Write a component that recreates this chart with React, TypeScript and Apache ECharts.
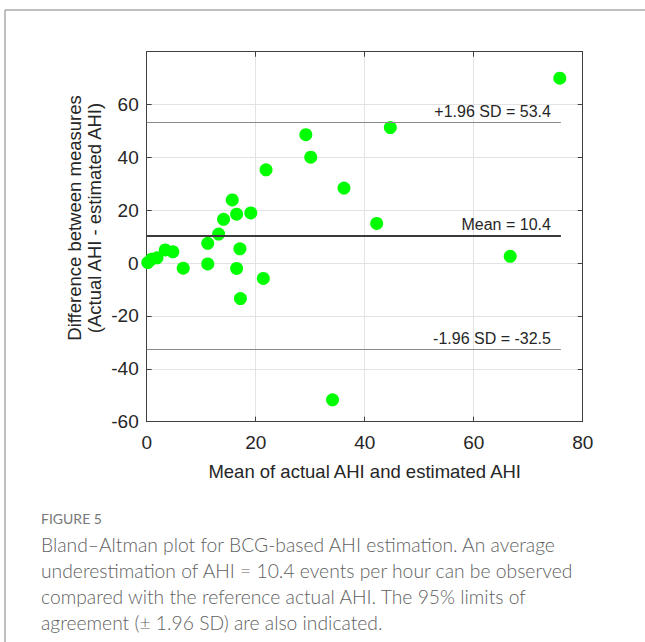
import React, { useEffect, useRef } from "react";
import * as echarts from "echarts";

const meanValues = [0.2, 0.9, 1.9, 3.4, 4.8, 6.7, 11.2, 11.2, 13.2, 14.1, 15.7, 16.5, 17.1, 16.5, 17.2, 19.1, 21.9, 21.4, 29.2, 30.1, 36.2, 34.1, 42.2, 44.7, 66.7, 75.8];
const diffValues = [0.2, 1.5, 2.0, 5.0, 4.3, -1.9, 7.5, -0.3, 11.0, 16.6, 23.9, 18.5, 5.4, -2.0, -13.4, 19.0, 35.3, -5.8, 48.6, 40.1, 28.4, -51.7, 15.0, 51.3, 2.6, 70.0];

const meanDiff = 10.4;
const upperLoA = 53.4;
const lowerLoA = -32.5;
const lineRange = [0, 76];

const xTicks = [0, 20, 40, 60, 80];
const yTicks = [-60, -40, -20, 0, 20, 40, 60, 80];

const xAxisTitle = "Mean of actual AHI and estimated AHI";
const yAxisTitle = ["Difference between measures", "(Actual AHI - estimated AHI)"];
const figureLabel = "FIGURE 5";
const captionLines = [
  "Bland\u2013Altman plot for BCG-based AHI estimation. An average",
  "underestimation of AHI = 10.4 events per hour can be observed",
  "compared with the reference actual AHI. The 95% limits of",
  "agreement (\u00b1 1.96 SD) are also indicated.",
];

const W = 645;
const H = 642;
const PLOT_L = 146.7;
const PLOT_R = 582.7;
const PLOT_T = 51.7;
const PLOT_B = 421.7;

export default function App() {
  const ref = useRef<HTMLDivElement>(null);

  useEffect(() => {
    if (!ref.current) return;
    const chart = echarts.init(ref.current, null, { renderer: "svg" });
    const textColor = "#262626";
    const axisColor = "#404040";
    const fontFamily = "'Liberation Sans', Arial, sans-serif";
    const captionFont = "Lato, 'Open Sans', sans-serif";

    const hLine = (y: number, label: string, color: string, width: number) => [
      {
        coord: [lineRange[0], y],
        lineStyle: { color, width, type: "solid" },
        label: {
          show: true,
          position: "insideEndTop",
          distance: [10, 3],
          formatter: label,
          color: textColor,
          fontSize: 16,
          fontFamily,
        },
      },
      { coord: [lineRange[1], y] },
    ];

    const xMin = xTicks[0];
    const xMax = xTicks[xTicks.length - 1];
    const yMin = yTicks[0];
    const yMax = yTicks[yTicks.length - 1];

    const captionGraphics: any[] = [
      {
        type: "text",
        x: 84,
        y: 218,
        rotation: Math.PI / 2,
        style: {
          text: yAxisTitle.join("\n"),
          fontSize: 18.5,
          lineHeight: 20,
          fill: textColor,
          fontFamily,
          align: "center",
          verticalAlign: "middle",
        },
      },
      {
        type: "text",
        left: 41,
        top: 511,
        style: { text: figureLabel, fontSize: 14, fill: "#777", fontFamily: captionFont },
      },
      ...captionLines.map((t, i) => ({
        type: "text",
        left: 41,
        top: 535 + i * 26,
        style: {
          text: t,
          fontSize: 19.3,
          fontWeight: 300,
          fill: "#5f5f5f",
          fontFamily: captionFont,
        },
      })),
      {
        type: "line",
        shape: { x1: 5, y1: 10, x2: W, y2: 10 },
        style: { stroke: "#aaaaaa", lineWidth: 1.5 },
      },
      {
        type: "line",
        shape: { x1: 5, y1: 10, x2: 5, y2: H },
        style: { stroke: "#aaaaaa", lineWidth: 1.5 },
      },
    ];

    const baseAxisLine = { show: true, onZero: false, lineStyle: { color: axisColor, width: 1 } };
    const tick = { show: true, inside: true, length: 5, lineStyle: { color: axisColor } };

    chart.setOption({
      animation: false,
      backgroundColor: "#ffffff",
      grid: {
        left: PLOT_L,
        right: W - PLOT_R,
        top: PLOT_T,
        bottom: H - PLOT_B,
        containLabel: false,
      },
      xAxis: [
        {
          type: "value",
          min: xMin,
          max: xMax,
          interval: 20,
          position: "bottom",
          name: xAxisTitle,
          nameLocation: "middle",
          nameGap: 40,
          nameTextStyle: { fontSize: 18.5, color: textColor, fontFamily },
          axisLine: baseAxisLine,
          axisTick: tick,
          axisLabel: { fontSize: 19, color: textColor, fontFamily, margin: 11 },
          splitLine: { show: true, lineStyle: { color: "#e3e3e3", width: 1 } },
        },
        {
          type: "value",
          min: xMin,
          max: xMax,
          interval: 20,
          position: "top",
          axisLine: baseAxisLine,
          axisTick: tick,
          axisLabel: { show: false },
          splitLine: { show: false },
        },
      ],
      yAxis: [
        {
          type: "value",
          min: yMin,
          max: yMax,
          interval: 20,
          position: "left",
          axisLine: baseAxisLine,
          axisTick: tick,
          axisLabel: {
            fontSize: 19,
            color: textColor,
            fontFamily,
            margin: 8,
            formatter: (v: number) => (v === yMax ? "" : String(v)),
          },
          splitLine: { show: true, lineStyle: { color: "#e3e3e3", width: 1 } },
        },
        {
          type: "value",
          min: yMin,
          max: yMax,
          interval: 20,
          position: "right",
          axisLine: baseAxisLine,
          axisTick: tick,
          axisLabel: { show: false },
          splitLine: { show: false },
        },
      ],
      graphic: captionGraphics,
      series: [
        {
          type: "scatter",
          xAxisIndex: 0,
          yAxisIndex: 0,
          symbol: "circle",
          symbolSize: 13,
          itemStyle: { color: "#00ff00", opacity: 1 },
          data: meanValues.map((m, i) => [m, diffValues[i]]),
          markLine: {
            silent: true,
            symbol: ["none", "none"],
            animation: false,
            data: [
              hLine(upperLoA, `+1.96 SD = ${upperLoA}`, "#8a8a8a", 1.2),
              hLine(meanDiff, `Mean = ${meanDiff}`, "#3a3a3a", 2.2),
              hLine(lowerLoA, `-1.96 SD = ${lowerLoA}`, "#8a8a8a", 1.2),
            ],
          },
          z: 3,
        },
      ],
    });

    return () => chart.dispose();
  }, []);

  return (
    <div
      ref={ref}
      style={{ position: "absolute", left: 0, top: 0, width: W, height: H, background: "#fff" }}
    />
  );
}
